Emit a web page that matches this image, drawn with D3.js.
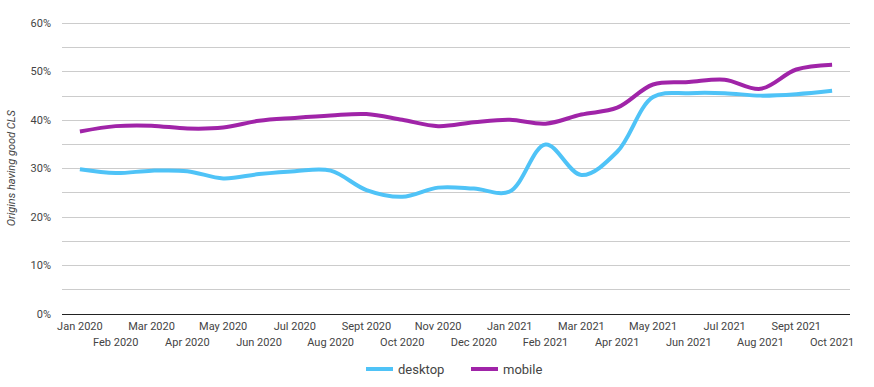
<!DOCTYPE html>
<html>
<head>
<meta charset="utf-8">
<script src="https://cdn.jsdelivr.net/npm/d3@7"></script>
<style>
  body { margin: 0; background: #fff; }
  svg { font-family: Roboto, "Noto Sans", sans-serif; }
</style>
</head>
<body>
<svg id="chart" width="874" height="387"></svg>
<script>
const months = ["Jan 2020", "Feb 2020", "Mar 2020", "Apr 2020", "May 2020", "Jun 2020",
  "Jul 2020", "Aug 2020", "Sept 2020", "Oct 2020", "Nov 2020", "Dec 2020",
  "Jan 2021", "Feb 2021", "Mar 2021", "Apr 2021", "May 2021", "Jun 2021",
  "Jul 2021", "Aug 2021", "Sept 2021", "Oct 2021"];
const desktop = [29.8, 29.0, 29.5, 29.4, 27.9, 28.8, 29.4, 29.5, 25.5, 24.1, 26.0, 25.8,
  25.2, 34.9, 28.6, 33.4, 44.7, 45.5, 45.5, 45.0, 45.3, 46.0];
const mobile = [37.6, 38.7, 38.8, 38.2, 38.4, 39.8, 40.4, 40.9, 41.2, 40.0, 38.7, 39.5,
  40.0, 39.2, 41.1, 42.5, 47.3, 47.8, 48.3, 46.4, 50.4, 51.4];
const yTicks = [0, 10, 20, 30, 40, 50, 60];
const series = [
  { name: "desktop", values: desktop, color: "#4fc3f7" },
  { name: "mobile", values: mobile, color: "#a024a8" }
];

const svg = d3.select("#chart");
const plotLeft = 62, plotRight = 850, plotTop = 23, plotBottom = 313.5;

const x = d3.scalePoint().domain(months).range([plotLeft, plotRight]).padding(0.5);
const y = d3.scaleLinear().domain([0, 60]).range([plotBottom, plotTop]);

// gridlines, every 5%
d3.range(5, 61, 5).forEach(v => {
  svg.append("line")
    .attr("x1", plotLeft).attr("x2", plotRight)
    .attr("y1", Math.round(y(v)) + 0.5).attr("y2", Math.round(y(v)) + 0.5)
    .attr("stroke", "#cccccc").attr("stroke-width", 1);
});

// y tick labels
yTicks.forEach(v => {
  svg.append("text")
    .attr("x", 51).attr("y", y(v) + 4)
    .attr("text-anchor", "end")
    .attr("font-size", 11).attr("fill", "#444")
    .text(v + "%");
});

// baseline
svg.append("line")
  .attr("x1", plotLeft).attr("x2", plotRight)
  .attr("y1", Math.round(plotBottom) + 0.5).attr("y2", Math.round(plotBottom) + 0.5)
  .attr("stroke", "#222").attr("stroke-width", 1);

// x labels, staggered in two rows
months.forEach((m, i) => {
  svg.append("text")
    .attr("x", x(m)).attr("y", i % 2 === 0 ? 329.5 : 345.5)
    .attr("text-anchor", "middle")
    .attr("font-size", 11).attr("fill", "#444")
    .text(m);
});

// axis title
svg.append("text")
  .attr("transform", `translate(15,${(plotTop + plotBottom) / 2}) rotate(-90)`)
  .attr("text-anchor", "middle")
  .attr("font-size", 11).attr("font-style", "italic").attr("fill", "#444")
  .text("Origins having good CLS");

const line = d3.line()
  .x((d, i) => x(months[i]))
  .y(d => y(d))
  .curve(d3.curveCatmullRom.alpha(0.5));

series.forEach(s => {
  svg.append("path")
    .datum(s.values)
    .attr("d", line)
    .attr("fill", "none")
    .attr("stroke", s.color)
    .attr("stroke-width", 4)
    .attr("stroke-linejoin", "round");
});

// legend
const legendX = [366, 471];
series.forEach((s, i) => {
  svg.append("line")
    .attr("x1", legendX[i]).attr("x2", legendX[i] + 27)
    .attr("y1", 369).attr("y2", 369)
    .attr("stroke", s.color).attr("stroke-width", 4);
  svg.append("text")
    .attr("x", legendX[i] + 32).attr("y", 374)
    .attr("font-size", 13).attr("fill", "#444")
    .text(s.name);
});
</script>
</body>
</html>
